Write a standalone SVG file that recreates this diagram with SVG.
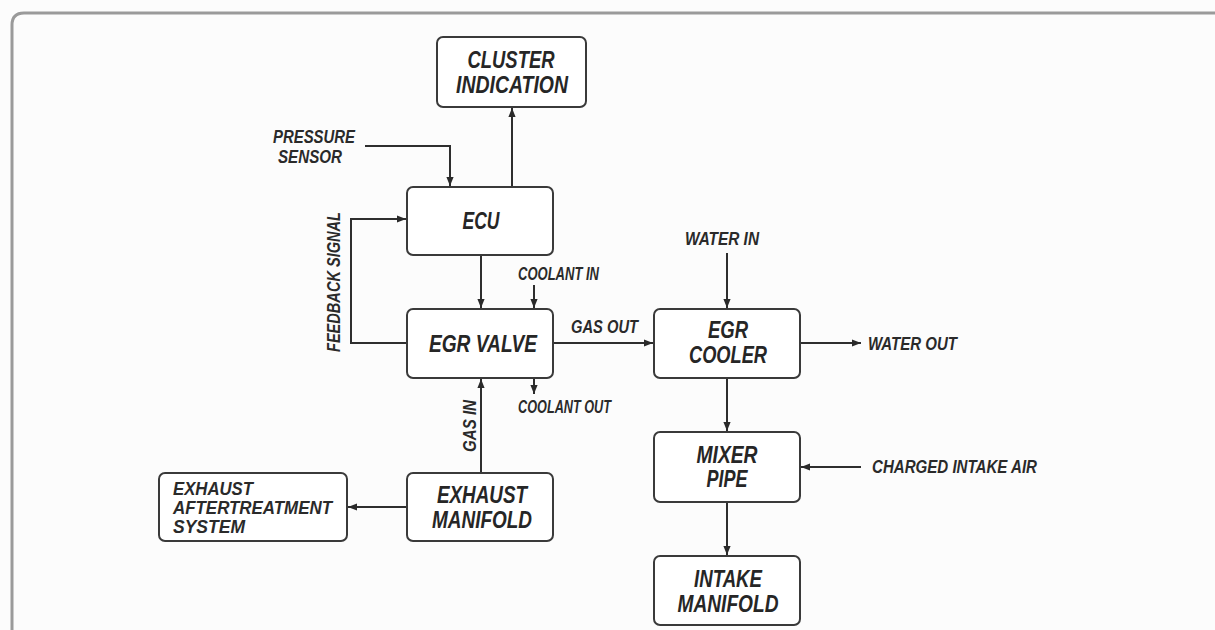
<svg xmlns="http://www.w3.org/2000/svg" width="1215" height="630" viewBox="0 0 1215 630">
  <defs>
    <marker id="arrow" viewBox="0 0 10 10" refX="10" refY="5" markerWidth="9" markerHeight="9" markerUnits="userSpaceOnUse" orient="auto">
      <path d="M0,1 L10,5 L0,9 Z" fill="#2a2a2a"/>
    </marker>
    <style>
      .box { fill: #ffffff; stroke: #3a3a3a; stroke-width: 2; }
      .node { font-family: "Liberation Sans", "Arial", sans-serif; font-weight: bold; font-style: italic; font-size: 23px; fill: #262626; text-anchor: middle; }
      .lbl { font-family: "Liberation Sans", "Arial", sans-serif; font-weight: bold; font-style: italic; font-size: 18px; fill: #2a2a2a; }
      .wire { fill: none; stroke: #2e2e2e; stroke-width: 2; }
      .arr { marker-end: url(#arrow); }
      .frame { fill: none; stroke: #9a9a9a; stroke-width: 3; }
    </style>
  </defs>

  <rect x="0" y="0" width="1215" height="630" fill="#fcfcfc"/>
  <path class="frame" d="M12,630 L12,25 Q12,13 24,13 L1215,13"/>

  <!-- connectors -->
  <g id="connectors">
    <path class="wire arr" d="M512,187 L512,108"/>
    <path class="wire arr" d="M365,146 L450,146 L450,186"/>
    <path class="wire arr" d="M407,343 L351,343 L351,219 L406,219"/>
    <path class="wire arr" d="M481,255 L481,308"/>
    <path class="wire arr" d="M534,285 L534,308"/>
    <path class="wire arr" d="M534,378 L534,394"/>
    <path class="wire arr" d="M553,343 L653,343"/>
    <path class="wire arr" d="M481,473 L481,379"/>
    <path class="wire arr" d="M407,507 L348,507"/>
    <path class="wire arr" d="M727,253 L727,308"/>
    <path class="wire arr" d="M800,343 L861,343"/>
    <path class="wire arr" d="M727,378 L727,431"/>
    <path class="wire arr" d="M861,467 L801,467"/>
    <path class="wire arr" d="M727,502 L727,555"/>
  </g>

  <!-- free labels -->
  <g id="labels">
    <text class="lbl" x="273" y="143" textLength="82" lengthAdjust="spacingAndGlyphs">PRESSURE</text>
    <text class="lbl" x="278" y="163" textLength="64" lengthAdjust="spacingAndGlyphs">SENSOR</text>
    <text class="lbl" x="-352" y="340" textLength="140" lengthAdjust="spacingAndGlyphs" transform="rotate(-90)">FEEDBACK SIGNAL</text>
    <text class="lbl" x="518" y="280" textLength="81" lengthAdjust="spacingAndGlyphs">COOLANT IN</text>
    <text class="lbl" x="518" y="413" textLength="93" lengthAdjust="spacingAndGlyphs">COOLANT OUT</text>
    <text class="lbl" x="571" y="333" textLength="67" lengthAdjust="spacingAndGlyphs">GAS OUT</text>
    <text class="lbl" x="-452" y="476" textLength="52" lengthAdjust="spacingAndGlyphs" transform="rotate(-90)">GAS IN</text>
    <text class="lbl" x="685" y="245" textLength="74" lengthAdjust="spacingAndGlyphs">WATER IN</text>
    <text class="lbl" x="868" y="350" textLength="89" lengthAdjust="spacingAndGlyphs">WATER OUT</text>
    <text class="lbl" x="872" y="473" textLength="165" lengthAdjust="spacingAndGlyphs">CHARGED INTAKE AIR</text>
  </g>

  <g id="cluster-indication">
    <rect class="box" x="437" y="37" width="149" height="70" rx="6"/>
    <text class="node" x="511" y="68" textLength="87" lengthAdjust="spacingAndGlyphs">CLUSTER</text>
    <text class="node" x="512" y="93" textLength="112" lengthAdjust="spacingAndGlyphs">INDICATION</text>
  </g>
  <g id="ecu">
    <rect class="box" x="407" y="187" width="146" height="68" rx="6"/>
    <text class="node" x="481" y="229" textLength="37" lengthAdjust="spacingAndGlyphs">ECU</text>
  </g>
  <g id="egr-valve">
    <rect class="box" x="407" y="309" width="146" height="69" rx="6"/>
    <text class="node" x="483" y="352" textLength="108" lengthAdjust="spacingAndGlyphs">EGR VALVE</text>
  </g>
  <g id="exhaust-manifold">
    <rect class="box" x="407" y="473" width="146" height="68" rx="6"/>
    <text class="node" x="482" y="503" textLength="90" lengthAdjust="spacingAndGlyphs">EXHAUST</text>
    <text class="node" x="482" y="528" textLength="100" lengthAdjust="spacingAndGlyphs">MANIFOLD</text>
  </g>
  <g id="exhaust-aftertreatment">
    <rect class="box" x="159" y="473" width="188" height="68" rx="6"/>
    <text class="lbl" x="173" y="495" textLength="80" lengthAdjust="spacingAndGlyphs">EXHAUST</text>
    <text class="lbl" x="173" y="514" textLength="159" lengthAdjust="spacingAndGlyphs">AFTERTREATMENT</text>
    <text class="lbl" x="173" y="533" textLength="72" lengthAdjust="spacingAndGlyphs">SYSTEM</text>
  </g>
  <g id="egr-cooler">
    <rect class="box" x="654" y="309" width="146" height="69" rx="6"/>
    <text class="node" x="728" y="338" textLength="40" lengthAdjust="spacingAndGlyphs">EGR</text>
    <text class="node" x="728" y="363" textLength="78" lengthAdjust="spacingAndGlyphs">COOLER</text>
  </g>
  <g id="mixer-pipe">
    <rect class="box" x="654" y="432" width="146" height="70" rx="6"/>
    <text class="node" x="727" y="463" textLength="61" lengthAdjust="spacingAndGlyphs">MIXER</text>
    <text class="node" x="727" y="487" textLength="41" lengthAdjust="spacingAndGlyphs">PIPE</text>
  </g>
  <g id="intake-manifold">
    <rect class="box" x="654" y="556" width="146" height="69" rx="6"/>
    <text class="node" x="728" y="587" textLength="68" lengthAdjust="spacingAndGlyphs">INTAKE</text>
    <text class="node" x="728" y="612" textLength="101" lengthAdjust="spacingAndGlyphs">MANIFOLD</text>
  </g>
</svg>
